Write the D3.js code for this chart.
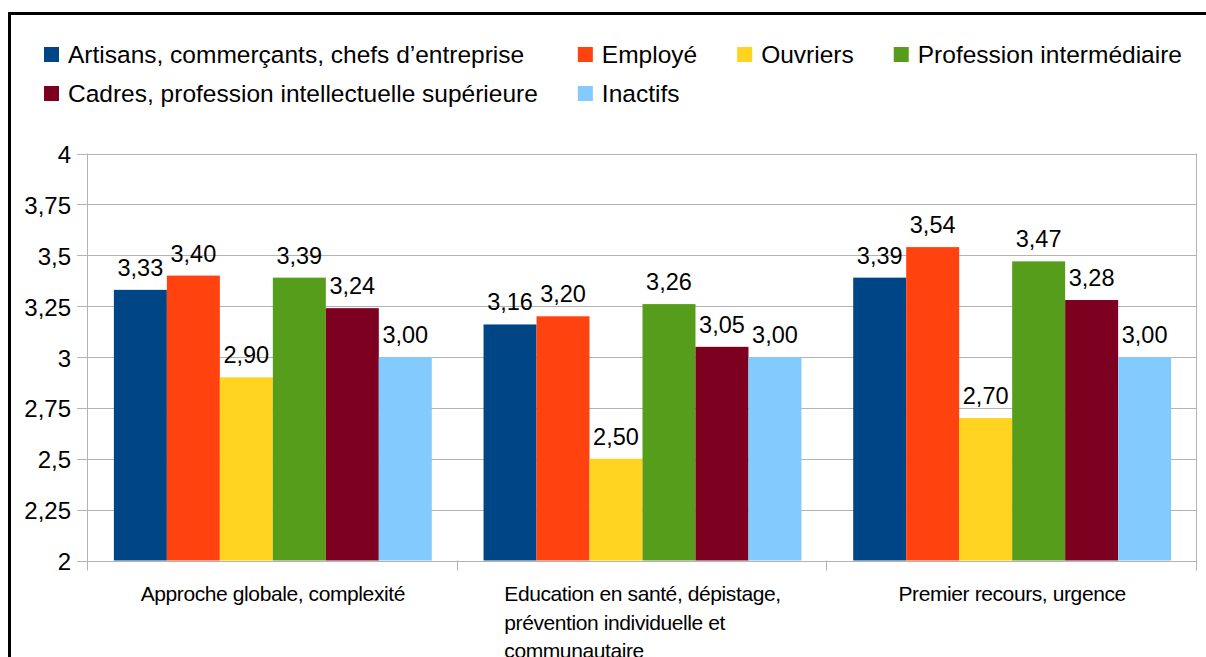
<!DOCTYPE html>
<html>
<head>
<meta charset="utf-8">
<script src="https://cdn.jsdelivr.net/npm/d3@7"></script>
<style>
    body { margin: 0; background: #fff; }
    svg { display: block; }
</style>
</head>
<body>
<div id="chart"></div>
<script>
/////////////////////////////////////////
//////////////// DATA ///////////////////
/////////////////////////////////////////

const categories = [
    "Approche globale, complexité",
    "Education en santé, dépistage, prévention individuelle et communautaire",
    "Premier recours, urgence"
];

const seriesNames = [
    "Artisans, commerçants, chefs d’entreprise",
    "Employé",
    "Ouvriers",
    "Profession intermédiaire",
    "Cadres, profession intellectuelle supérieure",
    "Inactifs"
];

//one array per series, one value per category
const artisans = [3.33, 3.16, 3.39];
const employe = [3.40, 3.20, 3.54];
const ouvriers = [2.90, 2.50, 2.70];
const intermediaire = [3.39, 3.26, 3.47];
const cadres = [3.24, 3.05, 3.28];
const inactifs = [3.00, 3.00, 3.00];

const yTicks = [2, 2.25, 2.5, 2.75, 3, 3.25, 3.5, 3.75, 4];

/////////////////////////////////////////
/////////////// COLORS //////////////////
/////////////////////////////////////////

const COLORS = ["#004586", "#ff420e", "#ffd320", "#579d1c", "#7e0021", "#83caff"];
const GRID = "#b3b3b3";
const TEXT = "#000";

/////////////////////////////////////////
/////////////// SIZES ///////////////////
/////////////////////////////////////////

const WIDTH = 1206;
const HEIGHT = 657;
const PLOT = { left: 88, right: 1197, top: 153.5, bottom: 560.5 };
const FONT = "'Liberation Sans', Arial, sans-serif";
const LEGEND_FONT = 24.5;

const series = [artisans, employe, ouvriers, intermediaire, cadres, inactifs];
const table = categories.map((c, i) => ({
    category: c,
    values: series.map((s, j) => ({ key: seriesNames[j], value: s[i], idx: j }))
}));

const fr = d3.formatLocale({ decimal: ",", thousands: " ", grouping: [3], currency: ["", " €"] });
const fmtValue = fr.format(".2f");
const fmtTick = fr.format("~g");

//////////////////////////////////////////
/////////////// Create SVG ///////////////
//////////////////////////////////////////

const svg = d3.select("#chart").append("svg")
    .attr("width", WIDTH)
    .attr("height", HEIGHT)
    .style("font-family", FONT);

//outer frame (runs off the right and bottom edge)
svg.append("rect")
    .attr("x", 9.5)
    .attr("y", 13.5)
    .attr("width", WIDTH + 20)
    .attr("height", HEIGHT + 20)
    .attr("fill", "#fff")
    .attr("stroke", "#000")
    .attr("stroke-width", 3);

//////////////////////////////////////////
/////////////// Scales ///////////////////
//////////////////////////////////////////

const y = d3.scaleLinear()
    .domain([2, 4])
    .range([PLOT.bottom, PLOT.top]);

const x0 = d3.scaleBand()
    .domain(categories)
    .range([PLOT.left, PLOT.right])
    .padding(0);

const bw = x0.bandwidth();
const x1 = d3.scaleBand()
    .domain(seriesNames)
    .range([bw * 0.07, bw * 0.93])
    .padding(0);

//////////////////////////////////////////
/////////////// Grid & axes //////////////
//////////////////////////////////////////

const grid = svg.append("g");

grid.selectAll("line.h")
    .data(yTicks)
    .join("line")
    .attr("class", "h")
    .attr("x1", PLOT.left - 11)
    .attr("x2", PLOT.right)
    .attr("y1", d => Math.round(y(d)) + 0.5)
    .attr("y2", d => Math.round(y(d)) + 0.5)
    .attr("stroke", GRID)
    .attr("stroke-width", 1);

//category separators + axis + right border
const seps = [PLOT.left, ...categories.map(c => x0(c) + bw)];
grid.selectAll("line.v")
    .data(seps)
    .join("line")
    .attr("class", "v")
    .attr("x1", d => Math.round(d) - 0.5)
    .attr("x2", d => Math.round(d) - 0.5)
    .attr("y1", (d, i) => (i === 0 || i === seps.length - 1) ? PLOT.top : PLOT.bottom)
    .attr("y2", PLOT.bottom + 10)
    .attr("stroke", GRID)
    .attr("stroke-width", 1);

svg.append("g")
    .selectAll("text")
    .data(yTicks)
    .join("text")
    .attr("x", 71)
    .attr("y", d => y(d))
    .attr("dy", "0.4em")
    .attr("text-anchor", "end")
    .attr("font-size", 24)
    .attr("fill", TEXT)
    .text(d => fmtTick(d));

//////////////////////////////////////////
/////////////// Bars /////////////////////
//////////////////////////////////////////

const groups = svg.append("g")
    .selectAll("g")
    .data(table)
    .join("g")
    .attr("transform", d => `translate(${x0(d.category)},0)`);

groups.selectAll("rect")
    .data(d => d.values)
    .join("rect")
    .attr("x", d => x1(d.key))
    .attr("width", x1.bandwidth())
    .attr("y", d => y(d.value))
    .attr("height", d => y(2) - y(d.value))
    .attr("fill", d => COLORS[d.idx]);

groups.selectAll("text")
    .data(d => d.values)
    .join("text")
    .attr("x", d => x1(d.key) + x1.bandwidth() / 2)
    .attr("y", d => y(d.value) - 14)
    .attr("text-anchor", "middle")
    .attr("font-size", 23.5)
    .attr("fill", TEXT)
    .text(d => fmtValue(d.value));

//////////////////////////////////////////
/////////////// Category labels //////////
//////////////////////////////////////////

const MAX_LABEL = bw * 0.8;

categories.forEach(c => {
    const t = svg.append("text")
        .attr("font-size", 21)
        .attr("letter-spacing", "-0.4px")
        .attr("fill", TEXT);

    //wrap words to lines
    const words = c.split(" ");
    const lines = [];
    let line = [];
    words.forEach(w => {
        line.push(w);
        t.text(line.join(" "));
        if (t.node().getComputedTextLength() > MAX_LABEL && line.length > 1) {
            line.pop();
            lines.push(line.join(" "));
            line = [w];
        }
    });
    lines.push(line.join(" "));

    t.text(null);
    const spans = lines.map((l, i) => t.append("tspan")
        .attr("y", 601 + i * 28.5)
        .text(l));
    const maxW = d3.max(spans, s => s.node().getComputedTextLength());
    const cx = x0(c) + bw / 2;
    spans.forEach(s => s.attr("x", cx - maxW / 2));
});

//////////////////////////////////////////
/////////////// Legend ///////////////////
//////////////////////////////////////////

const legendRows = [[0, 1, 2, 3], [4, 5]];
const LEG_X = 44, LEG_GAP = 40, SQ = 15;
const ROW_Y = [63, 102];

//measure texts to build column widths
const measure = svg.append("text").attr("font-size", LEGEND_FONT);
const textW = seriesNames.map(n => { measure.text(n); return measure.node().getComputedTextLength(); });
measure.remove();

const nCols = d3.max(legendRows, r => r.length);
const colW = d3.range(nCols).map(c => d3.max(legendRows, r => r[c] !== undefined ? textW[r[c]] : 0));
const colX = [LEG_X];
for (let c = 1; c < nCols; c++) colX.push(colX[c - 1] + SQ + 9 + colW[c - 1] + LEG_GAP);

const legend = svg.append("g");
legendRows.forEach((row, ri) => {
    row.forEach((si, ci) => {
        const item = legend.append("g")
            .attr("transform", `translate(${colX[ci]},${ROW_Y[ri]})`);
        item.append("rect")
            .attr("x", 0)
            .attr("y", -16)
            .attr("width", SQ)
            .attr("height", SQ)
            .attr("fill", COLORS[si]);
        item.append("text")
            .attr("x", SQ + 9)
            .attr("y", 0)
            .attr("font-size", LEGEND_FONT)
            .attr("fill", TEXT)
            .text(seriesNames[si]);
    });
});
</script>
</body>
</html>
